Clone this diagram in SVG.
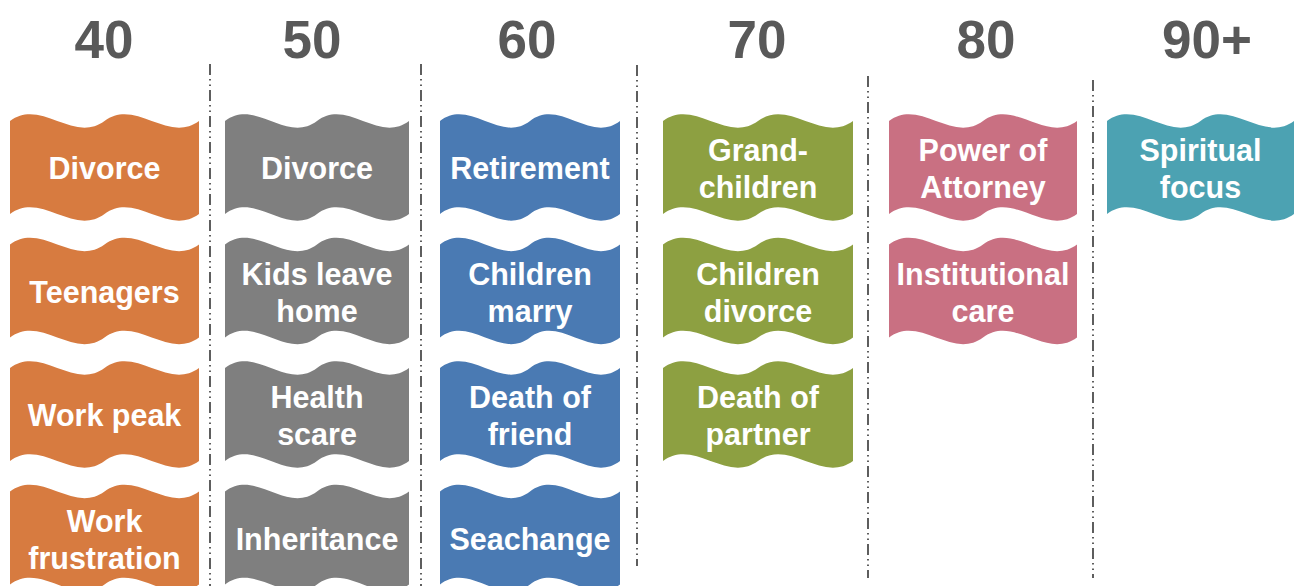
<svg xmlns="http://www.w3.org/2000/svg" xmlns:xlink="http://www.w3.org/1999/xlink" width="1295" height="586" viewBox="0 0 1295 586">
<style>
.hd{font-family:"Liberation Sans",Arial,sans-serif;font-weight:bold;font-size:53px;fill:#595959;text-anchor:middle}
.lb{font-family:"Liberation Sans",Arial,sans-serif;font-weight:bold;font-size:30.5px;fill:#ffffff;text-anchor:middle}
.dv{stroke:#1a1a1a;stroke-width:1.4;stroke-dasharray:11 4 1.5 4 1.5 4;fill:none}
.c1{fill:#D77B40}.c2{fill:#7F7F7F}.c3{fill:#4A7AB3}.c4{fill:#8DA041}.c5{fill:#C97082}.c6{fill:#4CA2B2}
</style>
<defs>
<path id="w1" d="M10,121 C41.5,98 73,144 104.5,121 C136,98 167.5,144 199,121 L199,214 C167.5,237 136,191 104.5,214 C73,237 41.5,191 10,214 Z"/>
<path id="w2" d="M225,121 C255.7,98 286.3,144 317,121 C347.7,98 378.3,144 409,121 L409,214 C378.3,237 347.7,191 317,214 C286.3,237 255.7,191 225,214 Z"/>
<path id="w3" d="M440,121 C470,98 500,144 530,121 C560,98 590,144 620,121 L620,214 C590,237 560,191 530,214 C500,237 470,191 440,214 Z"/>
<path id="w4" d="M663,121 C694.7,98 726.3,144 758,121 C789.7,98 821.3,144 853,121 L853,214 C821.3,237 789.7,191 758,214 C726.3,237 694.7,191 663,214 Z"/>
<path id="w5" d="M889,121 C920.3,98 951.7,144 983,121 C1014.3,98 1045.7,144 1077,121 L1077,214 C1045.7,237 1014.3,191 983,214 C951.7,237 920.3,191 889,214 Z"/>
<path id="w6" d="M1107,121 C1138.2,98 1169.3,144 1200.5,121 C1231.7,98 1262.8,144 1294,121 L1294,214 C1262.8,237 1231.7,191 1200.5,214 C1169.3,237 1138.2,191 1107,214 Z"/>
</defs>

<g id="headers">
<text class="hd" x="104" y="58">40</text>
<text class="hd" x="312" y="58">50</text>
<text class="hd" x="527" y="58">60</text>
<text class="hd" x="757" y="58">70</text>
<text class="hd" x="986" y="58">80</text>
<text class="hd" x="1207" y="58">90+</text>
</g>

<g id="connectors">
<line class="dv" x1="210" y1="64" x2="210" y2="586"/>
<line class="dv" x1="421" y1="64" x2="421" y2="586"/>
<line class="dv" x1="637" y1="65" x2="637" y2="566"/>
<line class="dv" x1="868" y1="76" x2="868" y2="578"/>
<line class="dv" x1="1093" y1="80" x2="1093" y2="578"/>
</g>

<!-- Column 40 -->
<g id="n40-divorce"><use xlink:href="#w1" class="c1"/><text class="lb" x="104.5" y="179">Divorce</text></g>
<g id="n40-teenagers" transform="translate(0,123.5)"><use xlink:href="#w1" class="c1"/><text class="lb" x="104.5" y="179">Teenagers</text></g>
<g id="n40-workpeak" transform="translate(0,247)"><use xlink:href="#w1" class="c1"/><text class="lb" x="104.5" y="179">Work peak</text></g>
<g id="n40-workfrustration" transform="translate(0,370.5)"><use xlink:href="#w1" class="c1"/><text class="lb" x="104.5" y="161">Work</text><text class="lb" x="104.5" y="198">frustration</text></g>

<!-- Column 50 -->
<g id="n50-divorce"><use xlink:href="#w2" class="c2"/><text class="lb" x="317" y="179">Divorce</text></g>
<g id="n50-kids" transform="translate(0,123.5)"><use xlink:href="#w2" class="c2"/><text class="lb" x="317" y="161">Kids leave</text><text class="lb" x="317" y="198">home</text></g>
<g id="n50-health" transform="translate(0,247)"><use xlink:href="#w2" class="c2"/><text class="lb" x="317" y="161">Health</text><text class="lb" x="317" y="198">scare</text></g>
<g id="n50-inheritance" transform="translate(0,370.5)"><use xlink:href="#w2" class="c2"/><text class="lb" x="317" y="179">Inheritance</text></g>

<!-- Column 60 -->
<g id="n60-retirement"><use xlink:href="#w3" class="c3"/><text class="lb" x="530" y="179">Retirement</text></g>
<g id="n60-children" transform="translate(0,123.5)"><use xlink:href="#w3" class="c3"/><text class="lb" x="530" y="161">Children</text><text class="lb" x="530" y="198">marry</text></g>
<g id="n60-death" transform="translate(0,247)"><use xlink:href="#w3" class="c3"/><text class="lb" x="530" y="161">Death of</text><text class="lb" x="530" y="198">friend</text></g>
<g id="n60-seachange" transform="translate(0,370.5)"><use xlink:href="#w3" class="c3"/><text class="lb" x="530" y="179">Seachange</text></g>

<!-- Column 70 -->
<g id="n70-grand"><use xlink:href="#w4" class="c4"/><text class="lb" x="758" y="161">Grand-</text><text class="lb" x="758" y="198">children</text></g>
<g id="n70-children" transform="translate(0,123.5)"><use xlink:href="#w4" class="c4"/><text class="lb" x="758" y="161">Children</text><text class="lb" x="758" y="198">divorce</text></g>
<g id="n70-death" transform="translate(0,247)"><use xlink:href="#w4" class="c4"/><text class="lb" x="758" y="161">Death of</text><text class="lb" x="758" y="198">partner</text></g>

<!-- Column 80 -->
<g id="n80-poa"><use xlink:href="#w5" class="c5"/><text class="lb" x="983" y="161">Power of</text><text class="lb" x="983" y="198">Attorney</text></g>
<g id="n80-care" transform="translate(0,123.5)"><use xlink:href="#w5" class="c5"/><text class="lb" x="983" y="161">Institutional</text><text class="lb" x="983" y="198">care</text></g>

<!-- Column 90+ -->
<g id="n90-spiritual"><use xlink:href="#w6" class="c6"/><text class="lb" x="1200.5" y="161">Spiritual</text><text class="lb" x="1200.5" y="198">focus</text></g>
</svg>
